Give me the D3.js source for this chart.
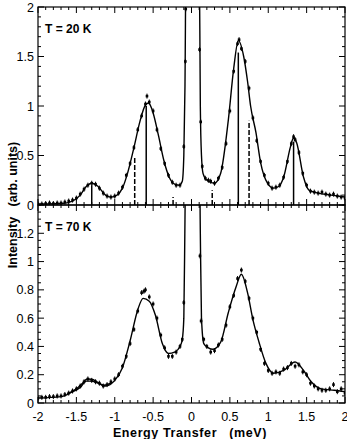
<!DOCTYPE html>
<html>
<head>
<meta charset="utf-8">
<script src="https://cdn.jsdelivr.net/npm/d3@7"></script>
<style>
  body { margin: 0; background: #fff; }
  svg { display: block; font-family: "Liberation Sans", Arial, sans-serif; }
</style>
</head>
<body>
<svg id="chart" width="347" height="439"></svg>
<script>
// data
const xTicks = [-2, -1.5, -1, -0.5, 0, 0.5, 1, 1.5, 2];
const xTickLabels = ["-2", "-1.5", "-1", "-0.5", "0", "0.5", "1", "1.5", "2"];
const yTicks20 = [0, 0.5, 1, 1.5, 2];
const yTicks70 = [0, 0.2, 0.4, 0.6, 0.8, 1, 1.2];

// T = 20 K measured points [E, I]
const pts20 = [
  [-2.00,0.01],[-1.95,0.01],[-1.90,0.015],[-1.85,0.02],[-1.80,0.015],[-1.75,0.02],[-1.70,0.02],
  [-1.65,0.03],[-1.60,0.04],[-1.55,0.05],[-1.50,0.07],[-1.45,0.11],[-1.40,0.16],[-1.35,0.20],
  [-1.30,0.22],[-1.25,0.21],[-1.20,0.17],[-1.15,0.12],[-1.10,0.09],[-1.05,0.08],[-1.00,0.09],
  [-0.95,0.12],[-0.90,0.18],[-0.85,0.30],[-0.80,0.42],[-0.75,0.58],[-0.70,0.76],[-0.65,0.90],
  [-0.60,1.02],[-0.58,1.10],[-0.55,1.04],[-0.50,0.95],[-0.45,0.76],[-0.40,0.57],[-0.35,0.42],
  [-0.30,0.30],[-0.25,0.23],[-0.20,0.20],[-0.15,0.20],[-0.10,0.59],[-0.08,1.45],[-0.075,1.98],
  [0.105,1.57],[0.12,0.84],[0.14,0.39],[0.18,0.27],[0.22,0.25],[0.25,0.24],[0.30,0.22],[0.35,0.27],
  [0.40,0.38],[0.45,0.62],[0.50,0.95],[0.55,1.35],[0.60,1.63],[0.62,1.67],[0.65,1.58],[0.70,1.45],
  [0.75,1.18],[0.80,0.88],[0.85,0.65],[0.90,0.44],[0.95,0.30],[1.00,0.22],[1.05,0.17],[1.10,0.18],
  [1.15,0.20],[1.20,0.28],[1.25,0.44],[1.30,0.62],[1.33,0.69],[1.35,0.66],[1.40,0.53],[1.45,0.32],
  [1.50,0.20],[1.55,0.14],[1.60,0.13],[1.65,0.12],[1.70,0.13],[1.75,0.11],[1.80,0.10],[1.85,0.11],
  [1.90,0.09],[1.95,0.08],[2.00,0.07]
];
// T = 20 K fitted line
const fit20 = [
  [-2,0.01],[-1.7,0.015],[-1.55,0.04],[-1.45,0.1],[-1.38,0.18],[-1.3,0.22],[-1.22,0.19],[-1.12,0.1],
  [-1.05,0.08],[-0.97,0.1],[-0.9,0.17],[-0.83,0.33],[-0.75,0.58],[-0.67,0.85],[-0.6,1.01],[-0.56,1.03],
  [-0.5,0.93],[-0.43,0.7],[-0.36,0.45],[-0.29,0.28],[-0.22,0.21],[-0.16,0.2],[-0.12,0.24],[-0.1,0.5],
  [-0.085,1.2],[-0.07,2.6],[0.1,2.6],[0.115,1.0],[0.13,0.5],[0.15,0.32],[0.2,0.25],[0.3,0.22],
  [0.38,0.32],[0.48,0.86],[0.55,1.38],[0.61,1.66],[0.68,1.5],[0.73,1.25],[0.77,1.0],[0.84,0.73],
  [0.9,0.43],[0.99,0.22],[1.07,0.17],[1.14,0.19],[1.2,0.28],[1.29,0.59],[1.33,0.68],[1.37,0.63],
  [1.46,0.28],[1.53,0.15],[1.65,0.12],[1.82,0.1],[2,0.08]
];
// T = 20 K transition sticks
const sticksSolid = [[-1.30,0.20],[-0.59,1.00],[0.61,1.54],[1.33,0.64]];
const sticksDashed = [[-0.74,0.49],[-0.24,0.08],[0.27,0.15],[0.75,0.85]];

// T = 70 K measured points
const pts70 = [
  [-2.00,0.035],[-1.95,0.04],[-1.90,0.04],[-1.85,0.045],[-1.80,0.045],[-1.75,0.05],[-1.70,0.05],
  [-1.65,0.06],[-1.60,0.07],[-1.55,0.085],[-1.50,0.10],[-1.45,0.12],[-1.40,0.15],[-1.35,0.17],
  [-1.30,0.16],[-1.25,0.15],[-1.20,0.14],[-1.15,0.12],[-1.10,0.13],[-1.05,0.15],[-1.00,0.17],
  [-0.95,0.20],[-0.90,0.26],[-0.85,0.33],[-0.80,0.42],[-0.75,0.52],[-0.70,0.65],[-0.65,0.78],
  [-0.62,0.79],[-0.60,0.80],[-0.55,0.75],[-0.50,0.70],[-0.45,0.60],[-0.40,0.48],[-0.35,0.39],
  [-0.30,0.33],[-0.25,0.33],[-0.20,0.36],[-0.15,0.40],[-0.12,0.45],[-0.10,0.71],
  [0.11,1.04],[0.125,0.58],[0.16,0.45],[0.20,0.40],[0.25,0.36],[0.30,0.37],[0.35,0.41],[0.40,0.45],
  [0.45,0.55],[0.50,0.68],[0.55,0.76],[0.60,0.88],[0.65,0.94],[0.70,0.86],[0.75,0.74],[0.80,0.60],
  [0.85,0.50],[0.90,0.38],[0.95,0.28],[1.00,0.23],[1.05,0.21],[1.10,0.22],[1.15,0.21],[1.20,0.24],
  [1.25,0.25],[1.30,0.28],[1.35,0.26],[1.40,0.27],[1.45,0.22],[1.50,0.20],[1.55,0.14],[1.60,0.12],
  [1.65,0.10],[1.70,0.09],[1.75,0.09],[1.80,0.10],[1.85,0.13],[1.90,0.08],[1.95,0.10],[2.00,0.07]
];
// T = 70 K fitted line
const fit70 = [
  [-2,0.035],[-1.7,0.045],[-1.55,0.08],[-1.45,0.11],[-1.37,0.155],[-1.3,0.155],[-1.2,0.135],
  [-1.12,0.12],[-1.0,0.16],[-0.9,0.25],[-0.8,0.44],[-0.7,0.66],[-0.63,0.74],[-0.55,0.72],
  [-0.47,0.62],[-0.38,0.42],[-0.3,0.35],[-0.22,0.36],[-0.15,0.4],[-0.12,0.45],[-0.1,0.6],
  [-0.085,1.3],[-0.07,2.0],[0.1,2.0],[0.115,1.2],[0.13,0.6],[0.16,0.42],[0.22,0.39],[0.28,0.38],
  [0.38,0.43],[0.48,0.64],[0.58,0.82],[0.65,0.91],[0.73,0.78],[0.8,0.59],[0.88,0.43],[0.97,0.28],
  [1.07,0.21],[1.2,0.23],[1.35,0.29],[1.46,0.23],[1.56,0.15],[1.69,0.1],[1.86,0.09],[2,0.08]
];
// second line near the -1.35 bump
const fit70b = [
  [-1.62,0.065],[-1.5,0.1],[-1.42,0.14],[-1.36,0.17],[-1.3,0.168],[-1.22,0.145],[-1.14,0.125],[-1.05,0.14]
];

const svg = d3.select("#chart");
const left = 38, right = 345;

const x = d3.scaleLinear().domain([-2, 2]).range([left, right]);

const panels = [
  {id: "p20", top: 7, bottom: 205, ymax: 2, ticks: yTicks20, minor: 0.1, label: "T = 20 K",
   pts: pts20, fits: [fit20], sticks: true},
  {id: "p70", top: 205, bottom: 403, ymax: 1.4, ticks: yTicks70, minor: 0.05, label: "T = 70 K",
   pts: pts70, fits: [fit70, fit70b], sticks: false}
];

const minorX = d3.range(-2, 2.0001, 0.1).map(v => +v.toFixed(2));

panels.forEach(function(p) {
  const y = d3.scaleLinear().domain([0, p.ymax]).range([p.bottom, p.top]);
  const g = svg.append("g").attr("id", p.id);

  g.append("clipPath").attr("id", "clip" + p.id)
    .append("rect").attr("x", left).attr("y", p.top).attr("width", right - left).attr("height", p.bottom - p.top);

  const plot = g.append("g").attr("clip-path", "url(#clip" + p.id + ")");

  const line = d3.line()
    .x(function(d) { return x(d[0]); })
    .y(function(d) { return y(d[1]); })
    .curve(d3.curveMonotoneX);

  p.fits.forEach(function(f) {
    plot.append("path").datum(f)
      .attr("d", line)
      .attr("fill", "none")
      .attr("stroke", "#000")
      .attr("stroke-width", 1.4);
  });

  // error bars + points
  plot.selectAll("line.err").data(p.pts).enter().append("line")
    .attr("x1", d => x(d[0])).attr("x2", d => x(d[0]))
    .attr("y1", d => y(d[1]) - 2.5).attr("y2", d => y(d[1]) + 2.5)
    .attr("stroke", "#000").attr("stroke-width", 1);
  plot.selectAll("rect.pt").data(p.pts).enter().append("rect")
    .attr("x", d => x(d[0]) - 1.3).attr("y", d => y(d[1]) - 1.3)
    .attr("width", 2.6).attr("height", 2.6).attr("fill", "#000");

  if (p.sticks) {
    plot.selectAll("line.solid").data(sticksSolid).enter().append("line")
      .attr("x1", d => x(d[0])).attr("x2", d => x(d[0]))
      .attr("y1", y(0)).attr("y2", d => y(d[1]))
      .attr("stroke", "#000").attr("stroke-width", 1.5);
    plot.selectAll("line.dash").data(sticksDashed).enter().append("line")
      .attr("x1", d => x(d[0])).attr("x2", d => x(d[0]))
      .attr("y1", y(0)).attr("y2", d => y(d[1]))
      .attr("stroke", "#000").attr("stroke-width", 1.5)
      .attr("stroke-dasharray", "5,2");
  }

  // frame
  g.append("rect").attr("x", left).attr("y", p.top)
    .attr("width", right - left).attr("height", p.bottom - p.top)
    .attr("fill", "none").attr("stroke", "#000").attr("stroke-width", 1.2);

  // x ticks, bottom and top, inward
  const major = 6, minorLen = 3;
  minorX.forEach(function(v) {
    const isMajor = Math.abs(v * 2 - Math.round(v * 2)) < 1e-6;
    const len = isMajor ? major : minorLen;
    g.append("line").attr("x1", x(v)).attr("x2", x(v))
      .attr("y1", p.bottom).attr("y2", p.bottom - len).attr("stroke", "#000");
    g.append("line").attr("x1", x(v)).attr("x2", x(v))
      .attr("y1", p.top).attr("y2", p.top + len).attr("stroke", "#000");
  });

  // y ticks, left and right
  const minorY = d3.range(0, p.ymax + 1e-6, p.minor);
  minorY.forEach(function(v) {
    const isMajor = p.ticks.some(t => Math.abs(t - v) < 1e-6);
    const len = isMajor ? major : minorLen;
    g.append("line").attr("x1", left).attr("x2", left + len)
      .attr("y1", y(v)).attr("y2", y(v)).attr("stroke", "#000");
    g.append("line").attr("x1", right).attr("x2", right - len)
      .attr("y1", y(v)).attr("y2", y(v)).attr("stroke", "#000");
  });

  g.selectAll("text.yl").data(p.ticks).enter().append("text")
    .attr("x", left - 4).attr("y", d => y(d))
    .attr("dy", "0.36em")
    .attr("text-anchor", "end")
    .attr("font-size", 12.5)
    .text(d => String(d));

  g.append("text").attr("x", 45).attr("y", p.top + 26)
    .attr("font-size", 12).attr("font-weight", "bold")
    .text(p.label);
});

// x tick labels
svg.selectAll("text.xl").data(xTicks).enter().append("text")
  .attr("x", d => x(d)).attr("y", 421)
  .attr("text-anchor", "middle")
  .attr("font-size", 12.5)
  .text((d, i) => xTickLabels[i]);

svg.append("text").attr("x", 190).attr("y", 437)
  .attr("text-anchor", "middle")
  .attr("font-size", 12.5).attr("font-weight", "bold")
  .attr("letter-spacing", "0.6")
  .attr("xml:space", "preserve")
  .text("Energy Transfer   (meV)");

svg.append("text")
  .attr("transform", "translate(17,205) rotate(-90)")
  .attr("text-anchor", "middle")
  .attr("font-size", 12.5).attr("font-weight", "bold")
  .attr("xml:space", "preserve")
  .text("Intensity   (arb. units)");
</script>
</body>
</html>
